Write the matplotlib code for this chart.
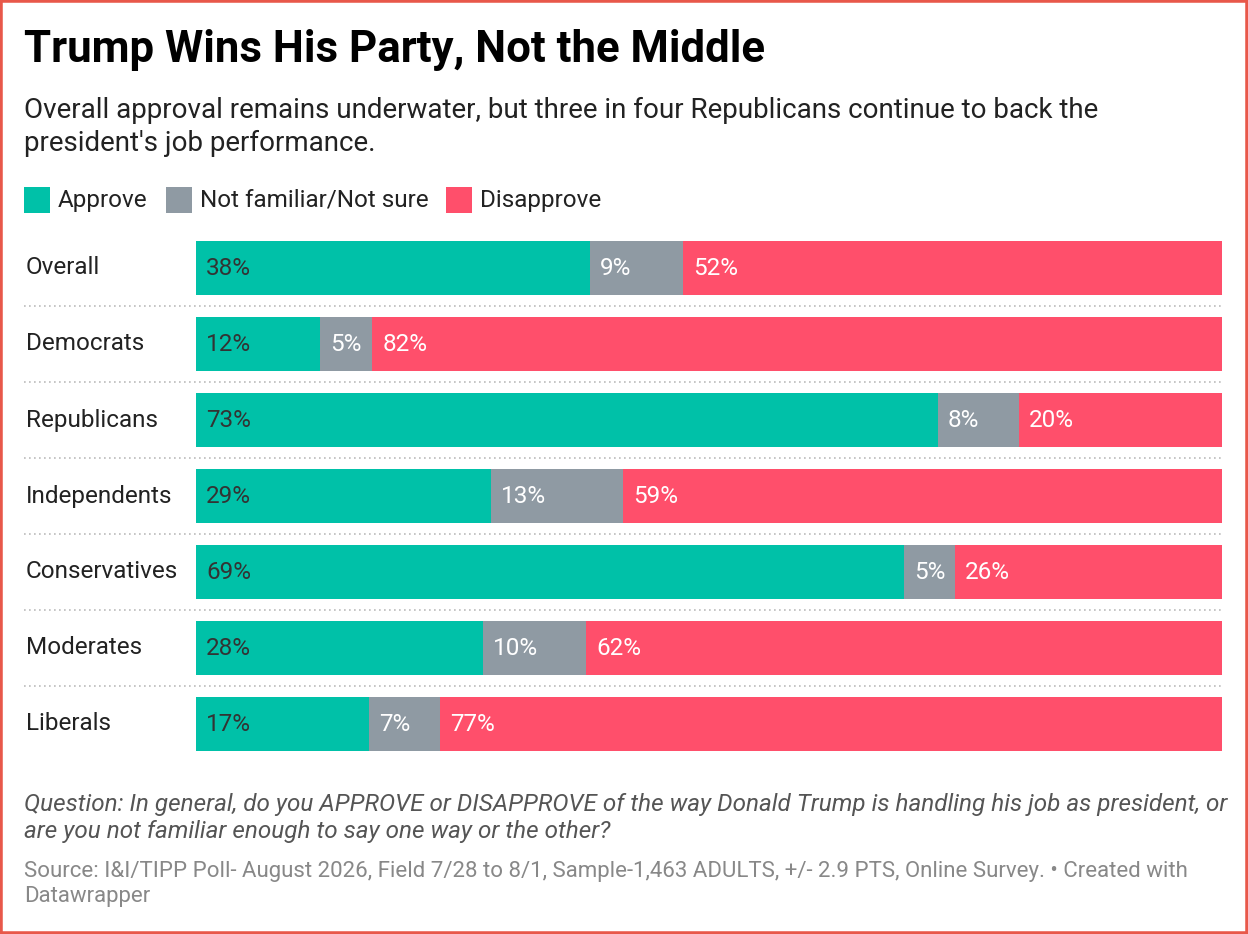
import matplotlib.pyplot as plt
import numpy as np
from matplotlib.patches import Rectangle
from matplotlib.lines import Line2D

plt.rcParams['font.family'] = ['Roboto', 'DejaVu Sans']

groups = ["Overall", "Democrats", "Republicans", "Independents", "Conservatives", "Moderates", "Liberals"]
approve = [38, 12, 73, 29, 69, 28, 17]
not_sure = [9, 5, 8, 13, 5, 10, 7]
disapprove = [52, 82, 20, 59, 26, 62, 77]
series_names = ["Approve", "Not familiar/Not sure", "Disapprove"]
colors = ["#00c1a8", "#8f9aa3", "#ff4f6b"]
text_colors = ["#333333", "white", "white"]

W, H = 1248, 934
fig = plt.figure(figsize=(W / 100, H / 100), dpi=100)
fig.patch.set_facecolor("white")
fig.patches.append(Rectangle((0, 0), 1, 1, transform=fig.transFigure, fill=False,
                             edgecolor="#e8584a", linewidth=4))

def fx(px): return px / W
def fy(py): return 1 - py / H

fig.text(fx(24), fy(50), "Trump Wins His Party, Not the Middle", fontsize=31.5, fontweight="bold",
         va="center", color="black")
fig.text(fx(24), fy(127), "Overall approval remains underwater, but three in four Republicans continue to back the\npresident's job performance.",
         fontsize=20, va="center", color="#222222", linespacing=1.25)

# legend
lx = [24, 166, 446]
for x, name, c in zip(lx, series_names, colors):
    fig.patches.append(Rectangle((fx(x), fy(213)), fx(26), 26 / H, transform=fig.transFigure,
                                 facecolor=c, edgecolor="none"))
    fig.text(fx(x + 34), fy(200), name, fontsize=17.5, va="center", color="#222222")

top, bottom = 230, 762
ax = fig.add_axes([fx(196), fy(bottom), fx(1222 - 196), (bottom - top) / H])
ax.set_xlim(0, 1)
ax.set_ylim(len(groups) - 0.5, -0.5)
ax.axis("off")

data = np.array([approve, not_sure, disapprove], dtype=float)
totals = data.sum(axis=0)
for i, g in enumerate(groups):
    left = 0
    for s in range(3):
        w = data[s, i] / totals[i]
        ax.barh(i, w, left=left, height=54 / 76, color=colors[s], edgecolor="none")
        ax.text(left + 10 / 1026, i, f"{int(data[s, i])}%", va="center", ha="left",
                fontsize=17.5, color=text_colors[s])
        left += w
    fig.text(fx(26), fy(top + 38 + 76 * i), g, fontsize=17.5, va="center", color="#222222")
    if i < len(groups) - 1:
        yy = fy(top + 76 * (i + 1))
        fig.lines.append(Line2D([fx(24), fx(1222)], [yy, yy], transform=fig.transFigure,
                                color="#bbbbbb", linewidth=1.2, linestyle=(0, (1, 2))))

fig.text(fx(24), fy(818), "Question: In general, do you APPROVE or DISAPPROVE of the way Donald Trump is handling his job as president, or\nare you not familiar enough to say one way or the other?",
         fontsize=17.5, style="italic", va="center", color="#555555", linespacing=1.25)
fig.text(fx(24), fy(884), "Source: I&I/TIPP Poll- August 2026, Field 7/28 to 8/1, Sample-1,463 ADULTS, +/- 2.9 PTS, Online Survey. • Created with\nDatawrapper",
         fontsize=16, va="center", color="#888888", linespacing=1.25)

fig.savefig("out.png", dpi=100)
